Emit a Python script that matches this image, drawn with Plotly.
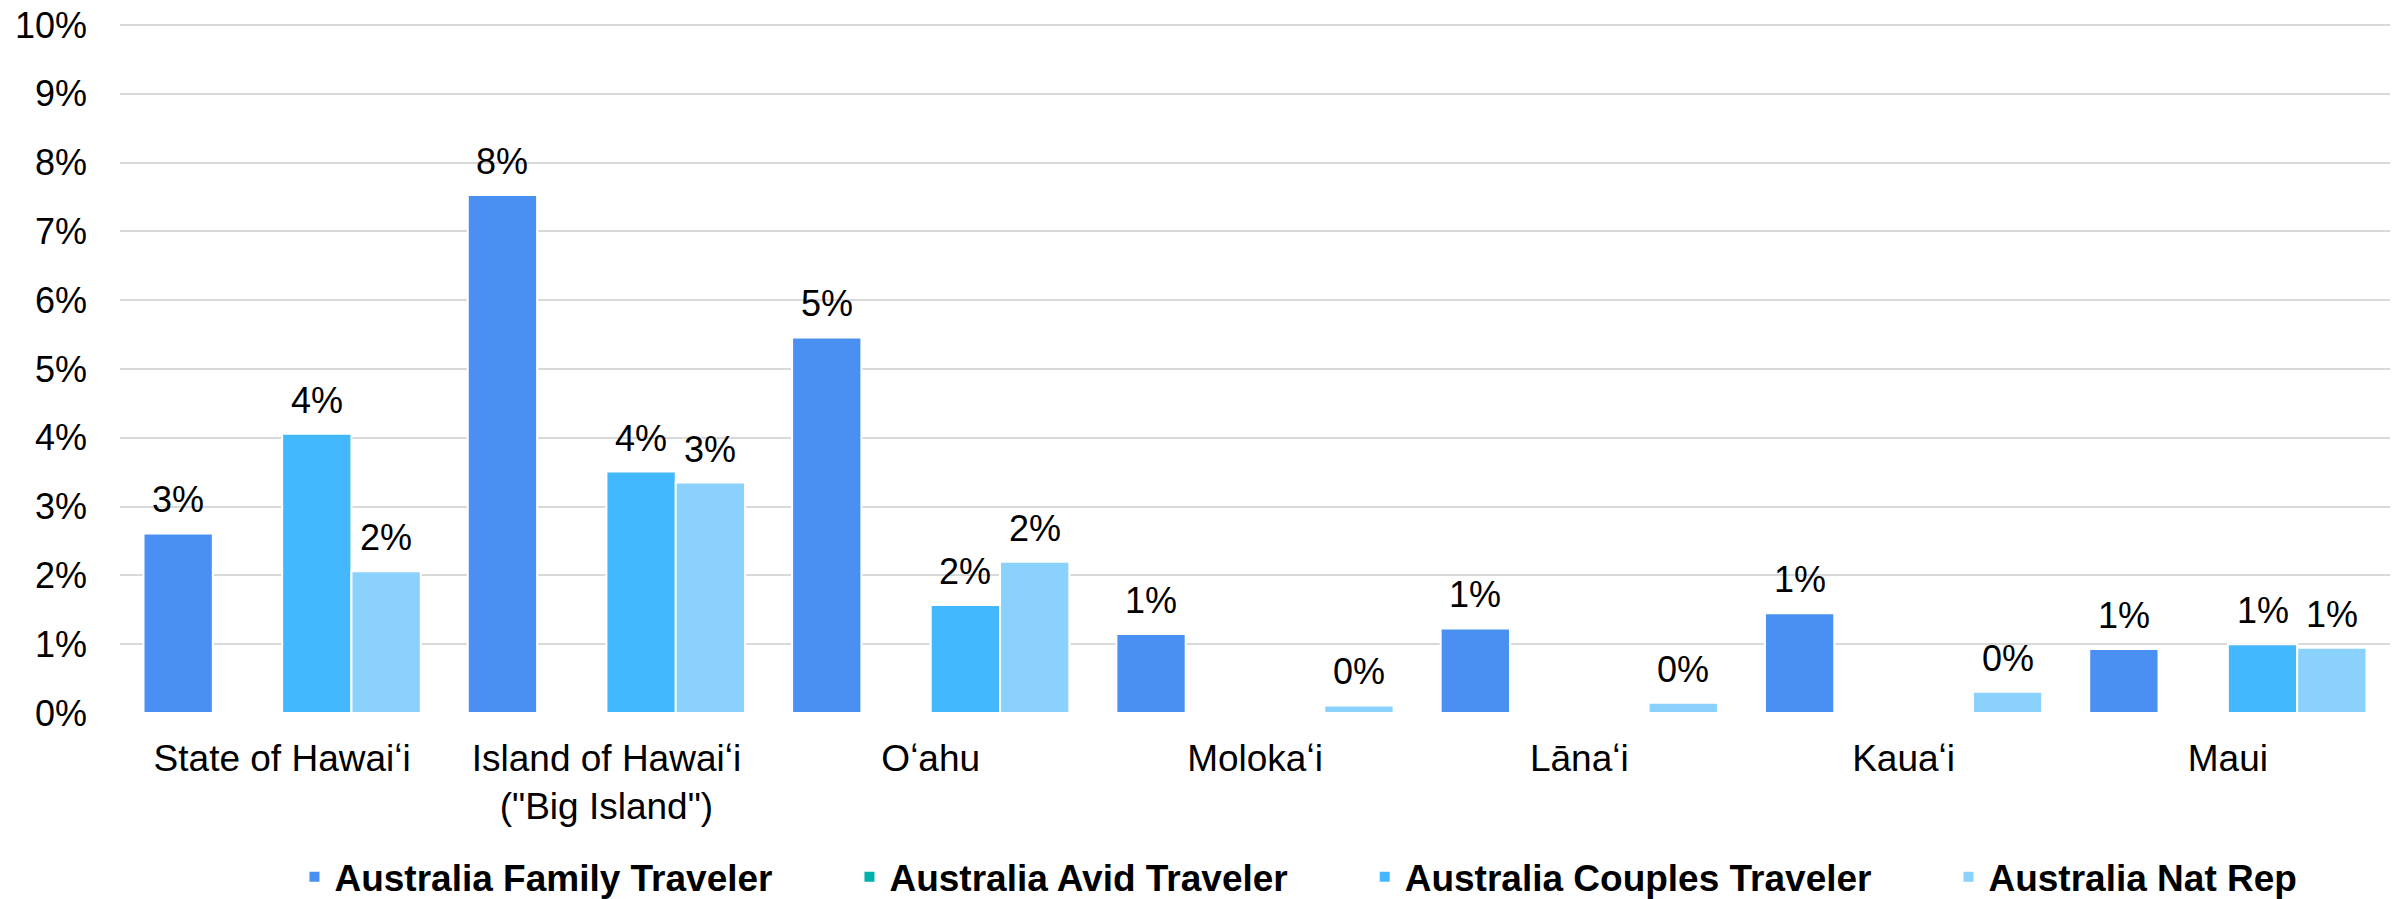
import plotly.graph_objects as go

islands = [
    "State of Hawaiʻi",
    "Island of Hawaiʻi<br>(\"Big Island\")",
    "Oʻahu",
    "Molokaʻi",
    "Lānaʻi",
    "Kauaʻi",
    "Maui",
]

family = [0.0261, 0.0753, 0.0546, 0.0115, 0.0123, 0.0145, 0.0093]
avid = [None, None, None, None, None, None, None]
couples = [0.0406, 0.0351, 0.0157, None, None, None, 0.0100]
nat_rep = [0.0206, 0.0335, 0.0220, 0.0011, 0.0015, 0.0031, 0.0095]

y_ticks = [0, 0.01, 0.02, 0.03, 0.04, 0.05, 0.06, 0.07, 0.08, 0.09, 0.10]

series = [
    ("Australia Family Traveler", family, "#4a90f2"),
    ("Australia Avid Traveler", avid, "#00b2a9"),
    ("Australia Couples Traveler", couples, "#43b8fe"),
    ("Australia Nat Rep", nat_rep, "#8ad2fd"),
]

FONT = "Liberation Sans, Arial, sans-serif"
PAD = "\u00a0" * 7  # widen the gap between legend entries

# page body has an 8px margin, so the figure is drawn 8px smaller
W, H = 2405 - 8, 899 - 8
M_L, M_R, M_T, M_B = 112, 15, 15, 186
BARGAP = 0.145

fig = go.Figure()

for name, vals, color in series:
    fig.add_trace(
        go.Bar(
            x=islands,
            y=vals,
            name=name + PAD,
            marker=dict(color=color, line=dict(color="white", width=2)),
            hoverinfo="skip",
        )
    )

# value labels, nudged a bit higher than plotly's "outside" text
cat_px = (W - M_L - M_R) / len(islands)
bar_px = cat_px * (1 - BARGAP) / len(series)
for i, (_, vals, _) in enumerate(series):
    for cat, v in zip(islands, vals):
        if v is None:
            continue
        fig.add_annotation(
            x=cat,
            y=v,
            text=f"{v:.0%}",
            showarrow=False,
            xref="x", yref="y",
            xshift=(i - (len(series) - 1) / 2) * bar_px,
            yshift=11,
            yanchor="bottom",
            font=dict(size=36, color="black", family=FONT),
        )

fig.update_layout(
    barmode="group",
    bargap=BARGAP,
    bargroupgap=0,
    width=W,
    height=H,
    margin=dict(l=M_L, r=M_R, t=M_T, b=M_B, autoexpand=False),
    plot_bgcolor="white",
    paper_bgcolor="white",
    font=dict(family=FONT, size=36, color="black"),
    legend=dict(
        orientation="h",
        x=0.535,
        xanchor="center",
        y=-0.238,
        yanchor="middle",
        font=dict(size=37, color="black", family=FONT, weight="bold"),
        itemsizing="constant",
        traceorder="normal",
    ),
)

fig.update_yaxes(
    range=[0, 0.1003],
    tickmode="array",
    tickvals=y_ticks,
    tickformat=".0%",
    showgrid=True,
    gridcolor="#d9d9d9",
    gridwidth=2,
    zeroline=False,
    showline=False,
    ticks="",
    ticklabelstandoff=32,
    ticklabeloverflow="allow",
    tickfont=dict(size=36, color="black"),
)
fig.update_xaxes(
    showgrid=False,
    showline=False,
    ticks="",
    ticklabelstandoff=20,
    tickfont=dict(size=37, color="black"),
)

fig.write_html("out.html")
